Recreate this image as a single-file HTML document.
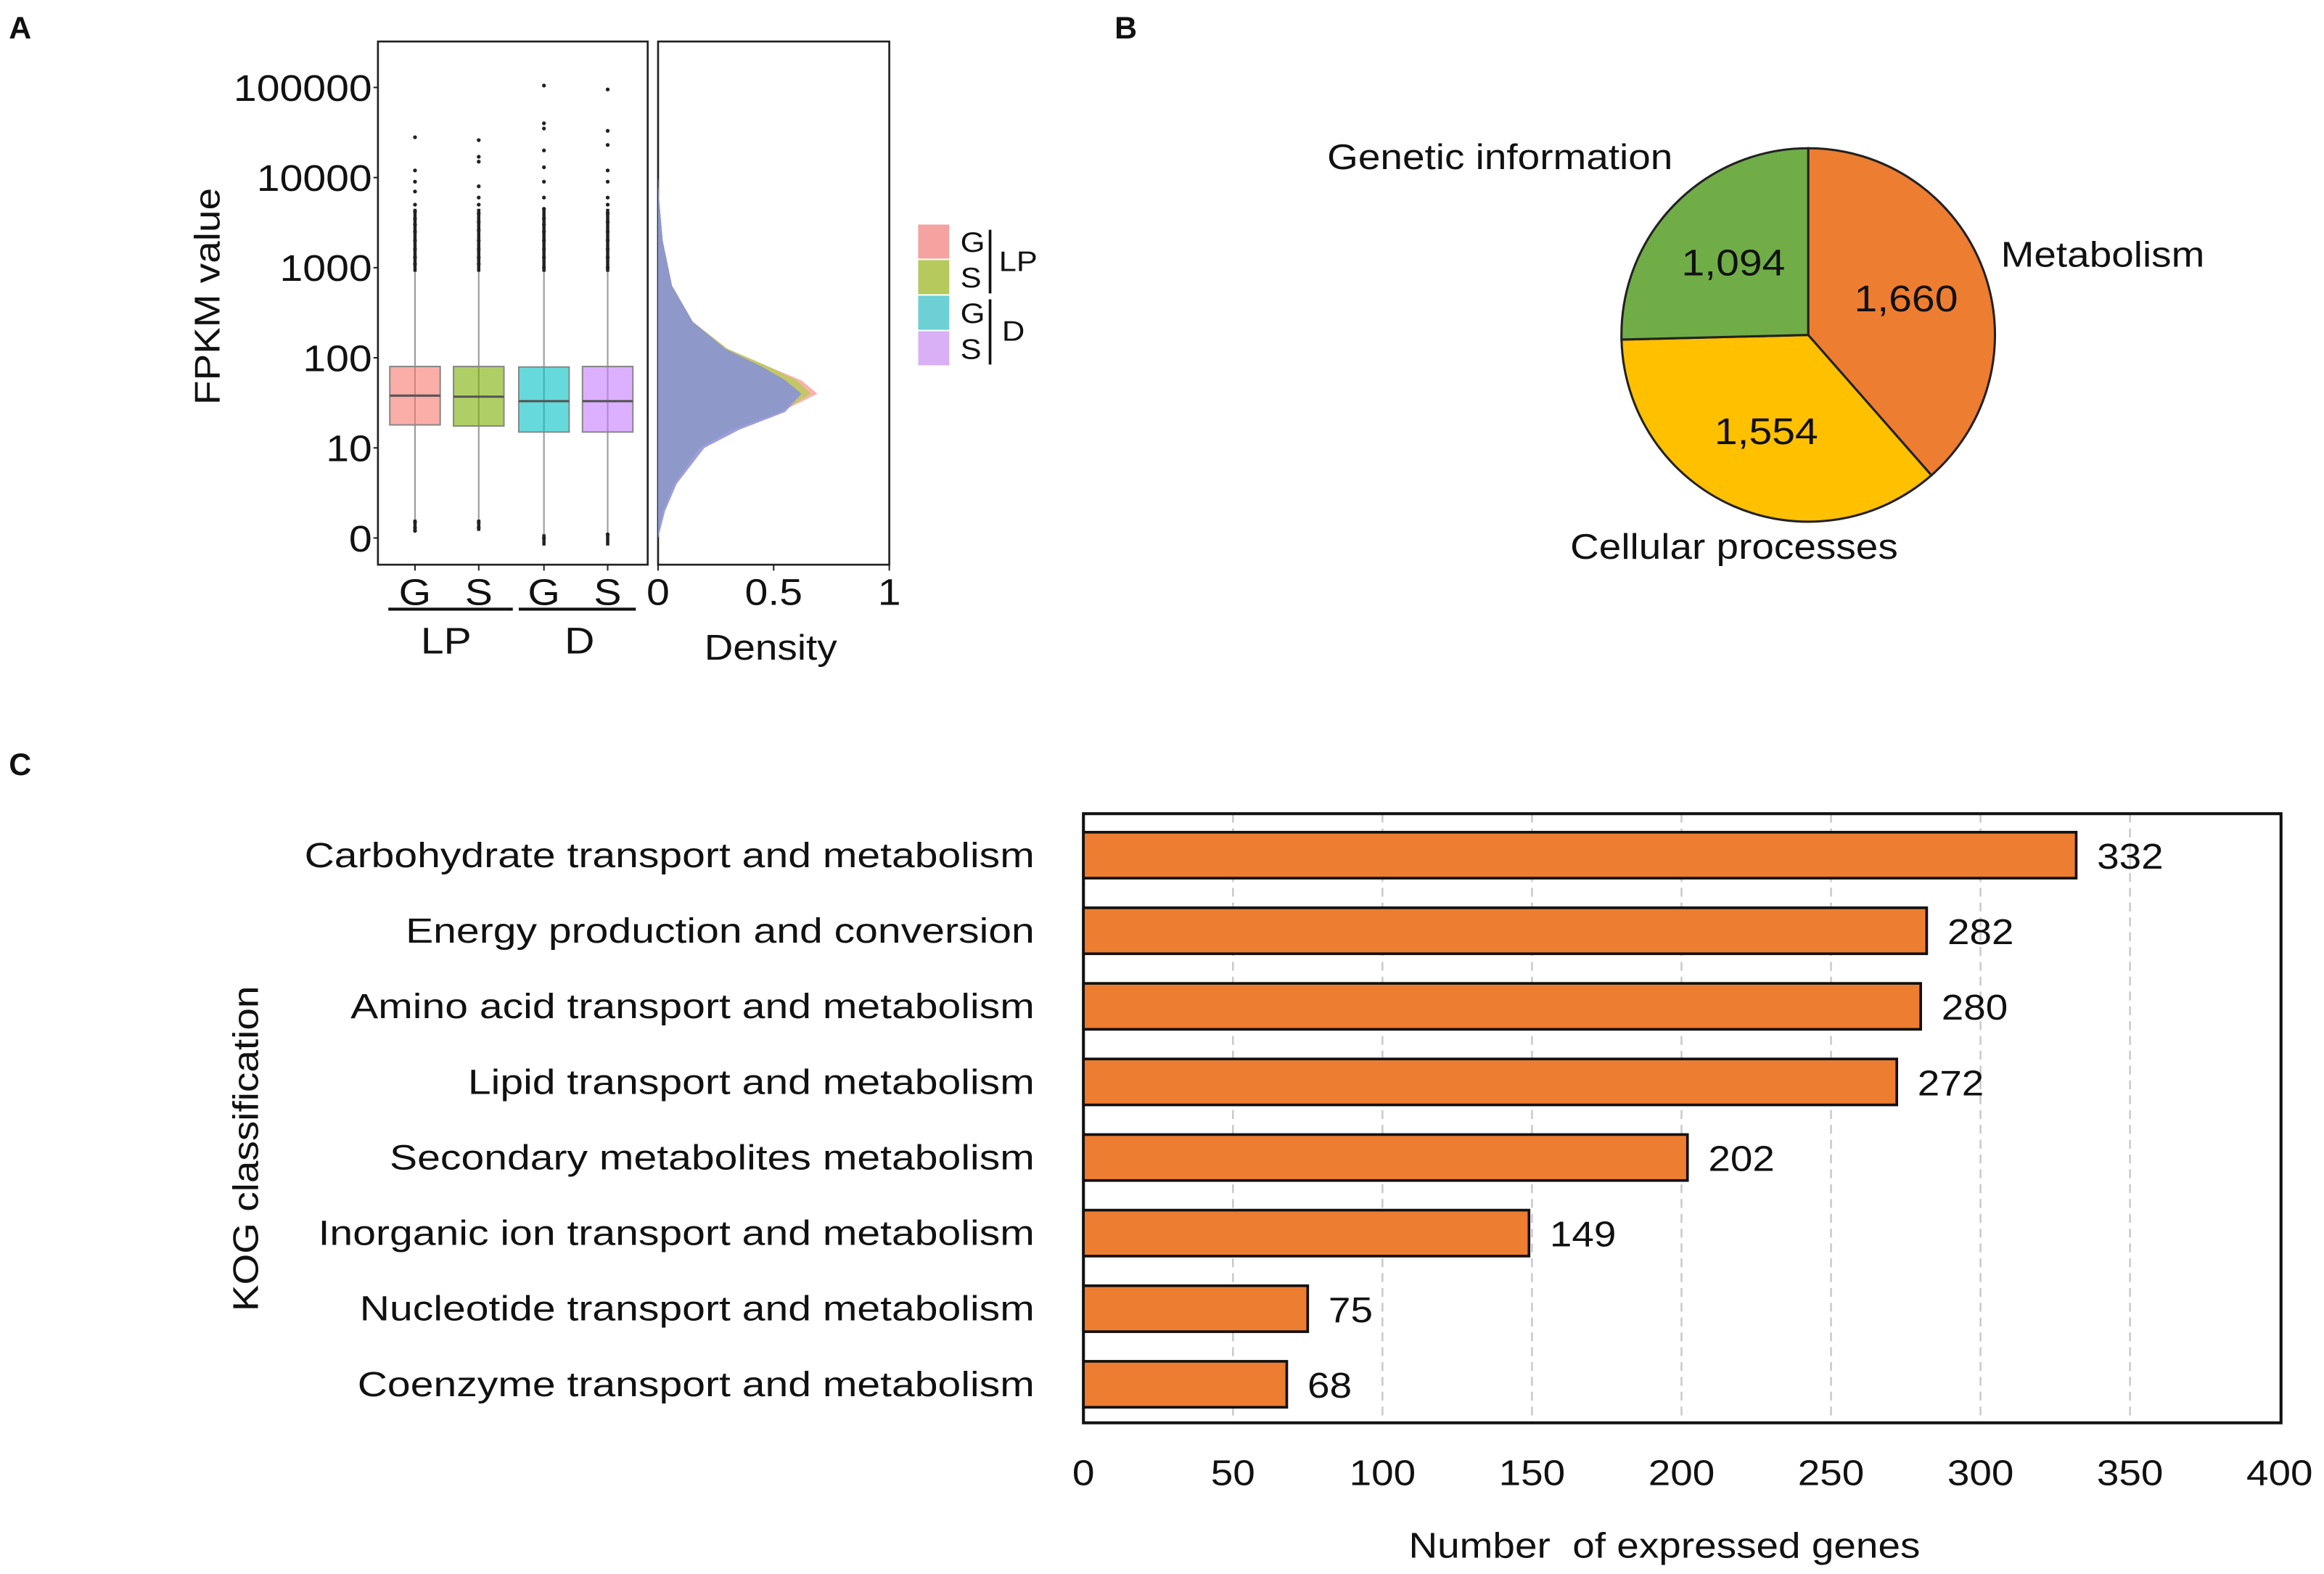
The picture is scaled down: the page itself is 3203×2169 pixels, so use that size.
<!DOCTYPE html>
<html><head><meta charset="utf-8">
<style>
html,body{margin:0;padding:0;background:#fff;}
svg{display:block;}
text{font-family:"Liberation Sans",sans-serif;fill:#111;}
</style></head>
<body>
<svg id="fig" width="3203" height="2169" viewBox="0 0 1568 1062" preserveAspectRatio="none" xmlns="http://www.w3.org/2000/svg">
<text x="6" y="26" font-size="21" font-weight="bold">A</text>
<text x="752" y="26" font-size="21" font-weight="bold">B</text>
<text x="6" y="523" font-size="21" font-weight="bold">C</text>
<g id="pa"></g>
<g id="pb"></g>
<g id="pc"></g>
</svg>
<script>
// ---------- Panel A data ----------
const boxGroups = ["G","S","G","S"];
const boxQ1 = [18, 17.5, 15, 15];
const boxMedian = [38, 37, 33, 33];
const boxQ3 = [80, 80, 79, 80];
const boxLow = [1.6, 1.6, 1.1, 1.1];
const boxHigh = [900, 900, 900, 900];
const outliersG1 = [28000, 12000, 9000, 7000, 5000, 4200, 3500, 3000, 2500, 2000, 1600, 1300, 1100, 1.5, 1.3, 1.2];
const outliersS1 = [26000, 17000, 15000, 8000, 6000, 5000, 4000, 3200, 2600, 2000, 1600, 1300, 1100, 1.5, 1.3];
const outliersG2 = [105000, 40000, 35000, 20000, 13000, 9000, 6000, 4500, 3500, 3000, 2500, 2000, 1600, 1300, 1000, 1.0];
const outliersS2 = [95000, 33000, 23000, 12000, 9000, 6000, 5000, 4000, 3200, 2500, 2000, 1600, 1300, 1000, 1.1];
const yTickValues = [1, 10, 100, 1000, 10000, 100000];
const yTickLabels = ["0","10","100","1000","10000","100000"];
const densLog = [0, 0.3, 0.6, 1.0, 1.2, 1.4, 1.6, 1.75, 1.9, 2.1, 2.4, 2.8, 3.3, 3.8, 4.0];
const densG1 = [0.0, 0.02, 0.07, 0.18, 0.32, 0.53, 0.69, 0.62, 0.48, 0.30, 0.15, 0.06, 0.02, 0.003, 0];
const densS1 = [0.0, 0.02, 0.07, 0.18, 0.32, 0.53, 0.66, 0.60, 0.48, 0.30, 0.15, 0.06, 0.02, 0.003, 0];
const densG2 = [0.0, 0.03, 0.08, 0.2, 0.35, 0.55, 0.62, 0.55, 0.45, 0.29, 0.15, 0.06, 0.02, 0.003, 0];
const densS2 = [0.0, 0.03, 0.08, 0.2, 0.35, 0.55, 0.62, 0.55, 0.45, 0.29, 0.15, 0.06, 0.02, 0.003, 0];
const densTicks = [0, 0.5, 1];
// ---------- Panel B data ----------
const pieLabels = ["Metabolism","Cellular processes","Genetic information"];
const pieValues = [1660, 1554, 1094];
const pieText = ["1,660","1,554","1,094"];
// ---------- Panel C data ----------
const kogCategories = ["Carbohydrate transport and metabolism","Energy production and conversion","Amino acid transport and metabolism","Lipid transport and metabolism","Secondary metabolites metabolism","Inorganic ion transport and metabolism","Nucleotide transport and metabolism","Coenzyme transport and metabolism"];
const kogValues = [332, 282, 280, 272, 202, 149, 75, 68];
const xTicksC = [0, 50, 100, 150, 200, 250, 300, 350, 400];

const NS = "http://www.w3.org/2000/svg";
function mk(parent, tag, attrs, txt){
  const e = document.createElementNS(NS, tag);
  for (const k in attrs) e.setAttribute(k, attrs[k]);
  if (txt !== undefined) e.textContent = txt;
  parent.appendChild(e);
  return e;
}

// ===== Panel A =====
const pa = document.getElementById('pa');
const yA = v => 363 - Math.log10(v) * 60.8;
const bx0 = 255, bx1 = 437, by0 = 28, by1 = 381;
const boxCx = [280, 323, 367, 410];
const boxFill = ["#F8766D", "#7CAE00", "#00BFC4", "#C77CFF"];
const outl = [outliersG1, outliersS1, outliersG2, outliersS2];
let f = mk(pa, 'rect', {x:bx0, y:by0, width:bx1-bx0, height:by1-by0, fill:'none', stroke:'#222', 'stroke-width':1.3});


yTickValues.forEach((v, i) => {
  const t = mk(pa, 'text', {x:bx0-4, y:yA(v)+9, 'font-size':25, 'text-anchor':'end'}, yTickLabels[i]);
  
  
  mk(pa, 'line', {x1:bx0-3, x2:bx0, y1:yA(v), y2:yA(v), stroke:'#222'});
});
let yl = mk(pa, 'text', {x:0, y:0, 'font-size':24, 'text-anchor':'middle', transform:'translate(148,200) rotate(-90)'}, 'FPKM value');


boxGroups.forEach((g, i) => {
  const cx = boxCx[i];
  mk(pa, 'line', {x1:cx, x2:cx, y1:yA(boxLow[i]), y2:yA(boxHigh[i]), stroke:'#999', 'stroke-width':1});
  outl[i].forEach(v => {
    const d = mk(pa, 'circle', {cx:cx, cy:yA(v), r:1.3, fill:'#222'});
    
    
  });
  mk(pa, 'line', {x1:cx, x2:cx, y1:yA(boxHigh[i]), y2:yA(boxHigh[i]*5), stroke:'#222', 'stroke-width':2.2});
  mk(pa, 'line', {x1:cx, x2:cx, y1:yA(boxLow[i]), y2:yA(boxLow[i]*0.75), stroke:'#222', 'stroke-width':2.2});
  const b = mk(pa, 'rect', {x:cx-17, y:yA(boxQ3[i]), width:34, height:yA(boxQ1[i])-yA(boxQ3[i]), fill:boxFill[i], 'fill-opacity':0.6, stroke:'#888', 'stroke-width':1});
  
  
  mk(pa, 'line', {x1:cx-17, x2:cx+17, y1:yA(boxMedian[i]), y2:yA(boxMedian[i]), stroke:'#555', 'stroke-width':1.5});
  mk(pa, 'line', {x1:cx, x2:cx, y1:by1, y2:by1+4, stroke:'#222'});
  const t = mk(pa, 'text', {x:cx, y:408, 'font-size':25, 'text-anchor':'middle'}, g);
  
  
});
mk(pa, 'line', {x1:262, x2:346, y1:411, y2:411, stroke:'#111', 'stroke-width':2});
mk(pa, 'line', {x1:350, x2:429, y1:411, y2:411, stroke:'#111', 'stroke-width':2});
let g1 = mk(pa, 'text', {x:301, y:441, 'font-size':25, 'text-anchor':'middle'}, 'LP');
 
let g2 = mk(pa, 'text', {x:391, y:441, 'font-size':25, 'text-anchor':'middle'}, 'D');
 
const dx0 = 444, dx1 = 600;
const xD = v => dx0 + v * (dx1 - dx0);
const yD = l => 363 - l * 60.8;
let f2 = mk(pa, 'rect', {x:dx0, y:by0, width:dx1-dx0, height:by1-by0, fill:'none', stroke:'#222', 'stroke-width':1.3});


const dens = [densG1, densS1, densG2, densS2];
const densCol = ["#F8A09A", "#B7CC55", "#7DB8D8", "#9E8FD8"];
const densOp = [0.8, 0.8, 0.75, 0.75];
dens.forEach((arr, k) => {
  let d = 'M' + xD(0) + ',' + yD(densLog[0]);
  densLog.forEach((l, i) => { d += ' L' + xD(arr[i]).toFixed(1) + ',' + yD(l).toFixed(1); });
  d += ' L' + xD(0) + ',' + yD(densLog[densLog.length-1]) + ' Z';
  const p = mk(pa, 'path', {d:d, fill:densCol[k], 'fill-opacity':densOp[k], stroke:'none'});
  
  
});
{
  let d = 'M' + xD(0) + ',' + yD(densLog[0]);
  densLog.forEach((l, i) => { d += ' L' + xD(Math.min(densG1[i],densS1[i],densG2[i],densS2[i])).toFixed(1) + ',' + yD(l).toFixed(1); });
  d += ' L' + xD(0) + ',' + yD(densLog[densLog.length-1]) + ' Z';
  const p = mk(pa, 'path', {d:d, fill:'#8E98C9', stroke:'none'});
  
  
}
densTicks.forEach(v => {
  mk(pa, 'line', {x1:xD(v), x2:xD(v), y1:by1, y2:by1+4, stroke:'#222'});
  const t = mk(pa, 'text', {x:xD(v), y:408, 'font-size':25, 'text-anchor':'middle'}, String(v));
  
  
});
let dl = mk(pa, 'text', {x:520, y:445, 'font-size':24, 'text-anchor':'middle'}, 'Density');
 
const legCol = ["#F4A3A0", "#B5C95C", "#6CD0D4", "#D9B0F5"];
const legLab = ["G","S","G","S"];
legLab.forEach((l, i) => {
  const y = 152 + i * 24;
  const r = mk(pa, 'rect', {x:620, y:y, width:20, height:22, fill:legCol[i], stroke:legCol[i]});
  
  
  const t = mk(pa, 'text', {x:648, y:y+18, 'font-size':19}, l);
  
  
});
mk(pa, 'line', {x1:668, x2:668, y1:155, y2:198, stroke:'#111', 'stroke-width':1.8});
mk(pa, 'line', {x1:668, x2:668, y1:202, y2:246, stroke:'#111', 'stroke-width':1.8});
mk(pa, 'text', {x:674, y:183, 'font-size':19}, 'LP');
mk(pa, 'text', {x:676, y:230, 'font-size':19}, 'D');

// ===== Panel B =====
const pb = document.getElementById('pb');
const pcx = 1220, pcy = 226, pr = 126;
const pieCol = ["#ED7D31", "#FFC000", "#70AD47"];
const labelPos = [[1350,180,'start'],[1170,377,'middle'],[1012,114,'middle']];
const total = pieValues.reduce((a,b)=>a+b, 0);
let ang = 0;
pieValues.forEach((v, i) => {
  const a0 = ang, a1 = ang + v / total * 2 * Math.PI;
  ang = a1;
  const x0 = pcx + pr*Math.sin(a0), y0 = pcy - pr*Math.cos(a0);
  const x1 = pcx + pr*Math.sin(a1), y1 = pcy - pr*Math.cos(a1);
  const large = (a1 - a0) > Math.PI ? 1 : 0;
  const p = mk(pb, 'path', {d:`M${pcx},${pcy} L${x0},${y0} A${pr},${pr} 0 ${large} 1 ${x1},${y1} Z`, fill:pieCol[i], stroke:'#222', 'stroke-width':1.5});
  
  
  const am = (a0 + a1) / 2;
  const t = mk(pb, 'text', {x:pcx + pr*0.56*Math.sin(am), y:pcy - pr*0.56*Math.cos(am) + 9, 'font-size':25, 'text-anchor':'middle'}, pieText[i]);
  
  
  const lp = labelPos[i];
  const t2 = mk(pb, 'text', {x:lp[0], y:lp[1], 'font-size':24, 'text-anchor':lp[2]}, pieLabels[i]);
  
  
});

// ===== Panel C =====
const pc = document.getElementById('pc');
const cx0 = 731, cx1 = 1538, cy0 = 549, cy1 = 960;
const xC = v => cx0 + v / 400 * (cx1 - cx0);
const rowY = i => 577 + i * 51.0;
xTicksC.forEach(v => {
  if (v > 0 && v < 400) {
    const g = mk(pc, 'line', {x1:xC(v), x2:xC(v), y1:cy0, y2:cy1, stroke:'#c8c8c8', 'stroke-width':1.2, 'stroke-dasharray':'6,4'});
    
    
  }
  const t = mk(pc, 'text', {x:xC(v), y:1002, 'font-size':24, 'text-anchor':'middle'}, String(v));
  
  
});
let fc = mk(pc, 'rect', {x:cx0, y:cy0, width:cx1-cx0+1, height:cy1-cy0, fill:'none', stroke:'#111', 'stroke-width':2});


kogCategories.forEach((c, i) => {
  const y = rowY(i);
  const b = mk(pc, 'rect', {x:cx0, y:y-15.5, width:xC(kogValues[i])-cx0, height:31, fill:'#ED7D31', stroke:'#111', 'stroke-width':1.8});
  
  
  const v = mk(pc, 'text', {x:xC(kogValues[i]) + 14, y:y+9, 'font-size':24}, String(kogValues[i]));
  
  
  const t = mk(pc, 'text', {x:698, y:y+8, 'font-size':23.5, 'text-anchor':'end', 'data-wide':'1.19'}, c);
  
  
});
let xt = mk(pc, 'text', {x:1123, y:1051, 'font-size':24, 'text-anchor':'middle'}, 'Number  of expressed genes');
 
xt.style.whiteSpace = 'pre';
let ytc = mk(pc, 'text', {x:0, y:0, 'font-size':24, 'text-anchor':'middle', transform:'translate(174,775) rotate(-90)'}, 'KOG classification');
 

// widen text to match reference glyph widths
document.querySelectorAll('#pa text, #pb text, #pc text').forEach(t => {
  const k = parseFloat(t.getAttribute('data-wide') || '1.12');
  const L = t.getComputedTextLength();
  if (L > 0) {
    t.setAttribute('textLength', (L * k).toFixed(1));
    t.setAttribute('lengthAdjust', 'spacingAndGlyphs');
  }
  t.removeAttribute('data-wide');
});
</script>
</body></html>
